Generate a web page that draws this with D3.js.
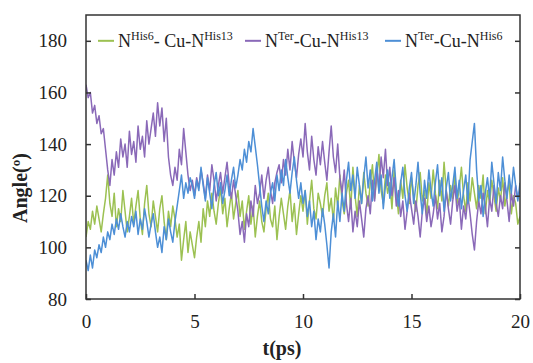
<!DOCTYPE html>
<html>
<head>
<meta charset="utf-8">
<script src="https://cdn.jsdelivr.net/npm/d3@7"></script>
<style>
  body { margin: 0; background: #fff; }
  svg { display: block; }
  text { font-family: 'Liberation Serif', 'DejaVu Serif', serif; }
</style>
</head>
<body>
<div id="chart"></div>
<script>
// time axis: 0..20 ps, every 0.1 ps
const tStep = 0.1;
const xTicks = [0, 5, 10, 15, 20];
const yTicks = [80, 100, 120, 140, 160, 180];

// N(His6)-Cu-N(His13)
const greenVals = [
  104, 110, 107, 114, 109, 116, 111, 106, 113, 119,
  128, 117, 112, 121, 108, 115, 110, 122, 114, 106,
  112, 119, 109, 116, 122, 111, 105, 117, 124, 113,
  108, 118, 112, 106, 115, 120, 110, 103, 114, 108,
  116, 111, 104, 109, 95, 103, 110, 98, 106, 101,
  96, 104, 110, 102, 115, 108, 118, 112, 121, 114,
  109, 117, 123, 113, 119, 108, 115, 121, 111, 117,
  122, 112, 118, 107, 114, 120, 109, 116, 104, 112,
  118, 110, 106, 115, 121, 111, 108, 116, 103, 112,
  119, 113, 107, 116, 122, 110, 117, 105, 113, 120,
  114, 122, 109, 118, 126, 115, 111, 121, 117, 112,
  120, 125, 114, 119, 110, 123, 116, 128, 118, 113,
  121, 126, 115, 131, 120, 112, 124, 117, 129, 121,
  116, 125, 132, 119, 127, 136, 122, 117, 128, 121,
  125, 115, 130, 121, 113, 126, 119, 132, 123, 117,
  127, 120, 114, 124, 129, 118, 122, 112, 125, 119,
  130, 121, 115, 126, 118, 133, 122, 116, 124, 119,
  128, 117, 123, 131, 120, 114, 125, 118, 127, 121,
  115, 124, 119, 128, 113, 122, 117, 126, 120, 114,
  123, 118, 127, 116, 121, 125, 113, 120, 117, 109,
  112
];

// N(Ter)-Cu-N(His13)
const purpleVals = [
  163, 158, 160, 152, 155, 148, 151, 144, 146, 138,
  130, 124, 134, 128, 137, 131, 142, 135, 140, 131,
  145, 136, 141, 133, 147, 138, 143, 135, 149, 140,
  146, 152, 143, 156, 147, 154, 141, 150, 135, 128,
  124, 131, 126, 138, 132, 146, 137, 128, 122, 126,
  120, 127, 123, 130, 125, 119, 128, 122, 132, 126,
  118, 124, 129, 121, 127, 133, 124, 119, 126, 120,
  114, 105, 110, 102, 113, 108, 118, 112, 124, 117,
  121, 128, 119, 126, 131, 122, 117, 125, 129, 132,
  125, 134, 128, 138, 130, 141, 133, 127, 136, 142,
  135, 148, 137, 130, 143, 134, 128, 139, 132, 141,
  133, 126, 137, 147, 135, 129, 140, 127, 121, 130,
  117, 110, 119, 106, 114, 108, 118, 111, 104, 115,
  120, 113, 126, 118, 131, 122, 135, 127, 138, 124,
  131, 120, 127, 116, 122, 112, 118, 107, 114, 121,
  115, 109, 118, 112, 104, 114, 119, 110, 116, 108,
  113, 120, 111, 117, 106, 112, 122, 115, 109, 118,
  124, 114, 119, 107, 116, 111, 120, 113, 105, 99,
  110, 118, 113, 121, 116, 108, 119, 114, 124, 117,
  112, 120, 115, 125, 118, 110, 121, 116, 124, 119,
  122
];

// N(Ter)-Cu-N(His6)
const blueVals = [
  95, 91, 97, 92, 99, 96, 101, 98, 104, 100,
  106, 103, 109, 105, 111, 107, 113, 108, 104, 110,
  106, 112, 108, 114, 105, 111, 107, 115, 110, 104,
  109, 113, 106, 100, 104, 98, 108, 103, 111, 106,
  102, 110, 116, 122, 128, 119, 125, 121, 127, 124,
  119, 126, 122, 131, 124, 118, 127, 121, 115, 124,
  129, 120, 125, 117, 122, 128, 120, 126, 131, 123,
  128, 134, 130, 138, 133, 141, 137, 146, 139, 132,
  124, 116, 110, 118, 113, 121, 125, 118, 128, 122,
  130, 124, 134, 127, 121, 129, 135, 126, 119, 125,
  117, 122, 112, 118, 108, 114, 103, 111, 106, 115,
  109, 101, 92, 106, 113, 104, 118, 110, 121, 114,
  126, 133, 122, 128, 119, 131, 124, 117, 127, 135,
  123, 130, 118, 126, 133, 121, 128, 115, 124, 130,
  119, 127, 134, 122, 116, 125, 131, 120, 114, 123,
  129, 117, 124, 133, 121, 113, 126, 119, 130, 122,
  116, 125, 132, 120, 127, 114, 123, 129, 118, 124,
  131, 119, 126, 115, 122, 128, 117, 134, 141, 148,
  130, 118, 124, 112, 121, 127, 119, 133, 125, 117,
  129, 122, 135, 126, 119, 128, 121, 131, 124, 118,
  125
];

const series = [
  { name: ['N', 'His6', '- Cu-N', 'His13'], color: '#9cc152', values: greenVals, lx: 98 },
  { name: ['N', 'Ter', '-Cu-N', 'His13'], color: '#8a69b8', values: purpleVals, lx: 245 },
  { name: ['N', 'Ter', '-Cu-N', 'His6'], color: '#4d8fd6', values: blueVals, lx: 385 }
];

const width = 533, height = 363;
const margin = { top: 15, right: 13, bottom: 64, left: 86 };
const innerW = width - margin.left - margin.right;
const innerH = height - margin.top - margin.bottom;

const svg = d3.select('#chart').append('svg').attr('width', width).attr('height', height);

const x = d3.scaleLinear().domain([0, 20]).range([margin.left, margin.left + innerW]);
const y = d3.scaleLinear().domain([80, 190]).range([margin.top + innerH, margin.top]);

svg.append('defs').append('clipPath').attr('id', 'plot-clip')
  .append('rect')
  .attr('x', margin.left).attr('y', margin.top)
  .attr('width', innerW).attr('height', innerH);

// lines
const line = d3.line()
  .x((d, i) => x(i * tStep))
  .y(d => y(d));

const lines = svg.append('g').attr('clip-path', 'url(#plot-clip)');
series.forEach(s => {
  lines.append('path')
    .datum(s.values)
    .attr('d', line)
    .style('fill', 'none')
    .style('stroke', s.color)
    .style('stroke-width', 1.5)
    .style('stroke-linejoin', 'round');
});

// frame
const axisColor = '#333';
svg.append('rect')
  .attr('x', margin.left).attr('y', margin.top)
  .attr('width', innerW).attr('height', innerH)
  .style('fill', 'none').style('stroke', axisColor).style('stroke-width', 1.5);

// axes: inward ticks
const font = "'Liberation Serif', 'DejaVu Serif', serif";

const yAxis = svg.append('g')
  .attr('transform', `translate(${margin.left},0)`)
  .call(d3.axisLeft(y).tickValues(yTicks).tickSizeInner(-5).tickSizeOuter(0).tickPadding(19));
const yAxisR = svg.append('g')
  .attr('transform', `translate(${margin.left + innerW},0)`)
  .call(d3.axisRight(y).tickValues(yTicks).tickSizeInner(-5).tickSizeOuter(0).tickFormat(''));
const xAxis = svg.append('g')
  .attr('transform', `translate(0,${margin.top + innerH})`)
  .call(d3.axisBottom(x).tickValues(xTicks).tickSizeInner(-5).tickSizeOuter(0).tickPadding(16));

[yAxis, yAxisR, xAxis].forEach(g => {
  g.attr('font-family', font).attr('font-size', 19);
  g.select('.domain').remove();
  g.selectAll('.tick line').style('stroke', axisColor).style('stroke-width', 1.5);
  g.selectAll('.tick text').style('fill', '#222');
});

// axis titles
svg.append('text')
  .attr('x', 282).attr('y', 355)
  .attr('text-anchor', 'middle')
  .attr('font-family', font).attr('font-size', 20).attr('font-weight', 'bold')
  .style('fill', '#222')
  .text('t(ps)');

svg.append('text')
  .attr('transform', 'translate(27,188) rotate(-90)')
  .attr('text-anchor', 'middle')
  .attr('font-family', font).attr('font-size', 20).attr('font-weight', 'bold')
  .style('fill', '#222')
  .text('Angle(º)');

// legend
const legY = y(180);
series.forEach(s => {
  const g = svg.append('g');
  g.append('line')
    .attr('x1', s.lx).attr('x2', s.lx + 16)
    .attr('y1', legY).attr('y2', legY)
    .style('stroke', s.color).style('stroke-width', 2);
  const t = g.append('text')
    .attr('x', s.lx + 20).attr('y', legY + 6)
    .attr('font-family', font).attr('font-size', 18)
    .style('fill', '#222');
  t.append('tspan').text(s.name[0]);
  t.append('tspan').attr('dy', -7).attr('font-size', 12).text(s.name[1]);
  t.append('tspan').attr('dy', 7).text(s.name[2]);
  t.append('tspan').attr('dy', -7).attr('font-size', 12).text(s.name[3]);
});
</script>
</body>
</html>
